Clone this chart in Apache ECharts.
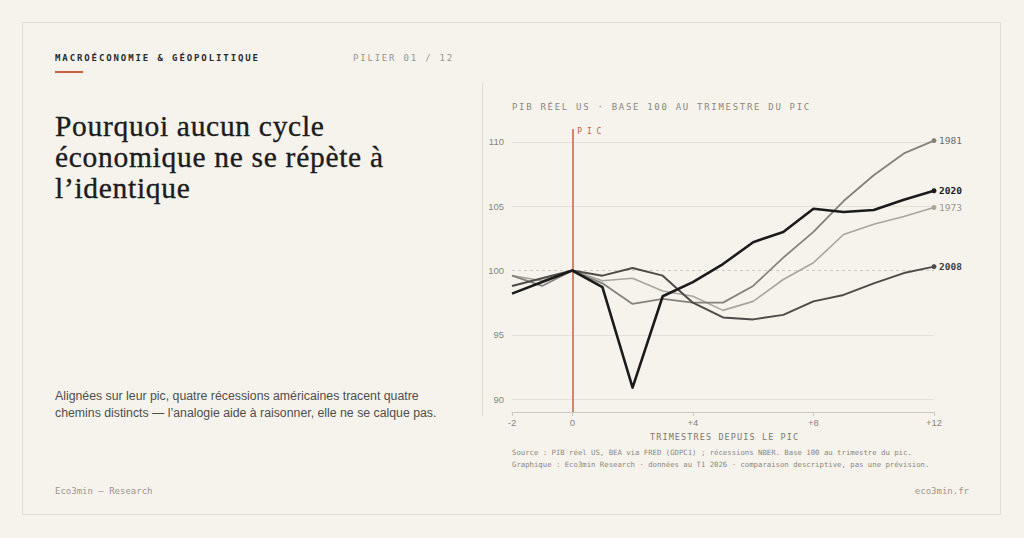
<!DOCTYPE html>
<html lang="fr">
<head>
<meta charset="utf-8">
<script src="https://cdn.jsdelivr.net/npm/echarts@6/dist/echarts.min.js"></script>
<style>
  html, body { margin:0; padding:0; background:#f6f3ed; }
  body { width:1024px; height:538px; position:relative; overflow:hidden; }
  .card { position:absolute; left:22px; top:22px; width:977px; height:491px; border:1px solid #e2ddd3; }
  .mono { font-family:"DejaVu Sans Mono", "Liberation Mono", monospace; }
  .abs { position:absolute; white-space:nowrap; margin:0; }
  #kicker { left:55px; top:53px; font-size:9px; font-weight:bold; color:#2b2b2b; letter-spacing:1.9px; }
  #rule { left:55px; top:71px; width:28px; height:2px; background:#c8603f; }
  #pilier { left:353px; top:53px; font-size:9px; color:#9a958d; letter-spacing:1.8px; }
  #divider { left:482px; top:82px; width:1px; height:334px; background:#e2ddd3; }
  #title { left:55px; top:111px; font-family:"Liberation Serif", "DejaVu Serif", serif; font-size:29.5px; line-height:31px; color:#1c1c1c; font-weight:normal; letter-spacing:0.7px; -webkit-text-stroke:0.35px #1c1c1c; }
  #sub { left:55px; top:388px; font-family:"Liberation Sans", Arial, sans-serif; font-size:12.3px; line-height:17px; color:#4e4e4e; }
  #foot1 { left:55px; top:486px; font-size:9px; color:#9a958d; }
  #foot2 { right:55px; top:486px; font-size:9px; color:#9a958d; }
  #ctitle { left:512px; top:102px; font-size:9px; color:#8c8780; letter-spacing:1.7px; }
  #xname { left:650px; top:432px; font-size:8.5px; color:#7d7871; letter-spacing:1.1px; }
  #src { left:512px; top:447px; font-size:7.3px; line-height:12px; color:#8c8780; }
  #chart { position:absolute; left:0; top:0; width:1024px; height:538px; }
</style>
</head>
<body>
<div class="card"></div>
<div id="kicker" class="abs mono">MACROÉCONOMIE &amp; GÉOPOLITIQUE</div>
<div id="rule" class="abs"></div>
<div id="pilier" class="abs mono">PILIER 01 / 12</div>
<div id="divider" class="abs"></div>
<h1 id="title" class="abs">Pourquoi aucun cycle<br>économique ne se répète à<br>l’identique</h1>
<p id="sub" class="abs">Alignées sur leur pic, quatre récessions américaines tracent quatre<br>chemins distincts — l’analogie aide à raisonner, elle ne se calque pas.</p>
<div id="foot1" class="abs mono">Eco3min — Research</div>
<div id="foot2" class="abs mono">eco3min.fr</div>
<div id="chart"></div>
<div id="ctitle" class="abs mono">PIB RÉEL US · BASE 100 AU TRIMESTRE DU PIC</div>
<div id="xname" class="abs mono">TRIMESTRES DEPUIS LE PIC</div>
<div id="src" class="abs mono">Source : PIB réel US, BEA via FRED (GDPC1) ; récessions NBER. Base 100 au trimestre du pic.<br>Graphique : Eco3min Research · données au T1 2026 · comparaison descriptive, pas une prévision.</div>
<script>
// Quarters relative to the pre-recession GDP peak
const quarters = [-2, -1, 0, 1, 2, 3, 4, 5, 6, 7, 8, 9, 10, 11, 12];
// Real GDP, base 100 at peak quarter
const gdp1973 = [99.6, 99.2, 100, 99.2, 99.4, 98.4, 98.0, 96.9, 97.6, 99.3, 100.6, 102.8, 103.6, 104.2, 104.9];
const gdp1981 = [99.6, 98.8, 100, 99.0, 97.4, 97.8, 97.5, 97.5, 98.8, 101.0, 103.0, 105.4, 107.4, 109.1, 110.1];
const gdp2008 = [98.8, 99.4, 100, 99.6, 100.2, 99.6, 97.5, 96.35, 96.2, 96.55, 97.6, 98.1, 99.0, 99.8, 100.3];
const gdp2020 = [98.2, 99.1, 100, 98.7, 90.9, 98.0, 99.1, 100.5, 102.2, 103.0, 104.8, 104.55, 104.7, 105.5, 106.2];
const seriesNames = ['1973', '1981', '2008', '2020'];
const xTickValues = [-2, 0, 4, 8, 12];
const yTickValues = [90, 95, 100, 105, 110];
const gridValues = [90, 95, 105, 110];
const peakQuarter = 0;
const baseLevel = 100;

const styles = {
  '1973': { color: '#a9a59e', width: 1.6, label: '#9a968f', weight: 'normal' },
  '1981': { color: '#85817b', width: 1.8, label: '#6f6b65', weight: 'normal' },
  '2008': { color: '#4d4b48', width: 2.0, label: '#44423f', weight: 'bold' },
  '2020': { color: '#1b1b1b', width: 2.6, label: '#1b1b1b', weight: 'bold' }
};
const valuesByName = { '1973': gdp1973, '1981': gdp1981, '2008': gdp2008, '2020': gdp2020 };

const chart = echarts.init(document.getElementById('chart'), null, { renderer: 'svg', width: 1024, height: 538 });
const mono = 'DejaVu Sans Mono';

const series = seriesNames.map((name, si) => {
  const st = styles[name];
  const vals = valuesByName[name];
  const last = vals.length - 1;
  const s = {
    name: name,
    type: 'line',
    data: quarters.map((q, i) => [q, vals[i]]),
    showSymbol: true,
    symbol: 'circle',
    symbolSize: (v, p) => (p.dataIndex === last ? 5 : 0),
    z: 3 + si,
    itemStyle: { color: st.color },
    lineStyle: { color: st.color, width: st.width, join: 'round' },
    animation: false,
    silent: true,
    endLabel: {
      show: true,
      formatter: name,
      fontFamily: mono,
      fontSize: 9.5,
      fontWeight: st.weight,
      color: st.label,
      distance: 5
    }
  };
  if (si === 0) {
    s.markLine = {
      silent: true,
      symbol: 'none',
      label: { show: false },
      animation: false,
      z: 1,
      data: gridValues.map(v => ({ yAxis: v, lineStyle: { color: '#e6e1d8', width: 1, type: 'solid' } }))
        .concat([{ yAxis: baseLevel, lineStyle: { color: '#cfcac1', width: 1, type: [3, 3] } }])
    };
  }
  if (si === 3) {
    s.markLine = {
      silent: true,
      symbol: 'none',
      animation: false,
      label: {
        show: true,
        position: 'end',
        formatter: 'P I C',
        fontFamily: mono,
        fontSize: 8,
        color: '#c8603f',
        align: 'left',
        offset: [5, 11]
      },
      data: [{ xAxis: peakQuarter, lineStyle: { color: '#c8603f', width: 1.5, type: 'solid' } }]
    };
  }
  return s;
});

chart.setOption({
  backgroundColor: 'transparent',
  animation: false,
  grid: { left: 512, right: 90, top: 129, bottom: 126, containLabel: false },
  xAxis: {
    type: 'value',
    min: -2,
    max: 12,
    splitLine: { show: false },
    axisLine: { show: true, lineStyle: { color: '#cdc8bf', width: 1 } },
    axisTick: { show: true, customValues: xTickValues, length: 4, lineStyle: { color: '#cdc8bf' } },
    axisLabel: {
      customValues: xTickValues,
      margin: 5,
      fontSize: 9.5,
      color: '#8a857e',
      fontFamily: 'Liberation Sans',
      formatter: v => (v > 0 ? '+' + v : String(v))
    }
  },
  yAxis: {
    type: 'value',
    min: 89,
    max: 111,
    splitLine: { show: false },
    axisLine: { show: false },
    axisTick: { show: false, customValues: yTickValues },
    axisLabel: {
      customValues: yTickValues,
      margin: 8,
      fontSize: 9.5,
      color: '#8a857e',
      fontFamily: 'Liberation Sans'
    }
  },
  series: series
});
</script>
</body>
</html>
